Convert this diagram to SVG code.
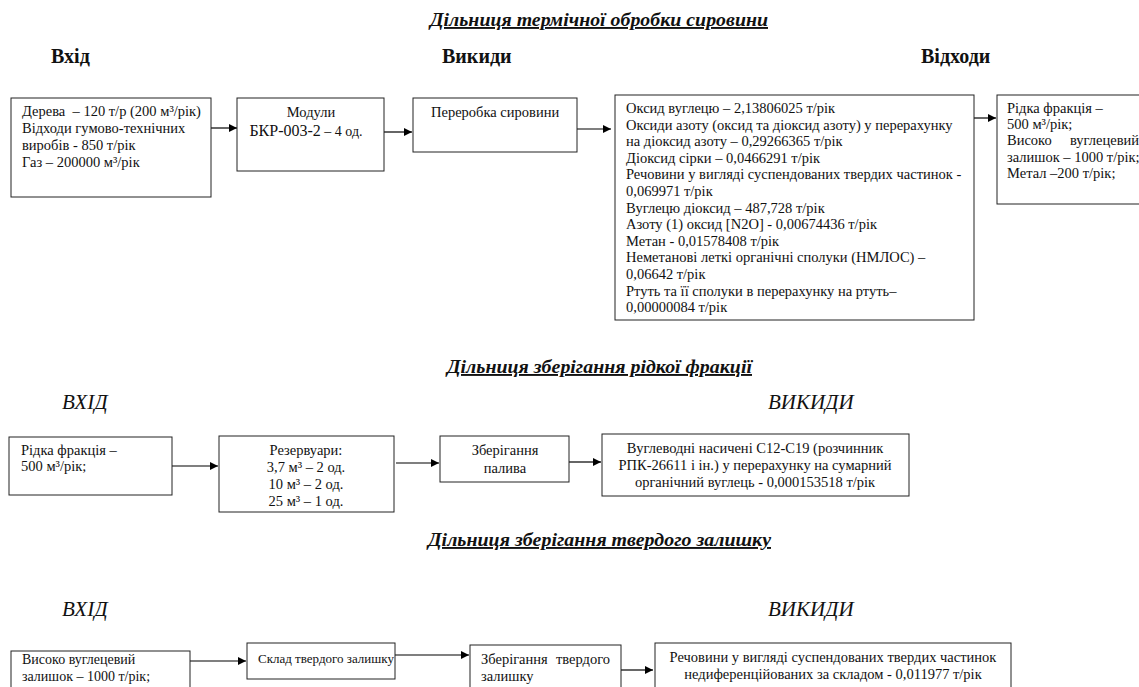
<svg xmlns="http://www.w3.org/2000/svg" width="1139" height="687" viewBox="0 0 1139 687" font-family="'Liberation Serif', 'Times New Roman', serif">
<defs>
<marker id="ah" viewBox="0 0 10 10" refX="10" refY="5" markerWidth="8" markerHeight="8" markerUnits="userSpaceOnUse" orient="auto">
<path d="M0,0 L10,5 L0,10 z" fill="#000"/>
</marker>
<style>
.box{fill:#fff;stroke:#222;stroke-width:1}
.t{font-size:14.5px;fill:#111}
.t.s{font-size:14px}
.t.xs{font-size:13px}
.c{text-anchor:middle}
.title{font-size:19px;font-weight:bold;font-style:italic;text-decoration:underline;fill:#111}
.hd{font-size:20px;font-weight:bold;fill:#111}
.hi{font-size:21px;font-style:italic;fill:#111}
.con{stroke:#000;stroke-width:1.2;fill:none;marker-end:url(#ah)}
</style>
</defs>
<rect width="1139" height="687" fill="#fff"/>

<g id="headings">
<text class="title" x="430" y="26" textLength="338" lengthAdjust="spacingAndGlyphs">Дільниця термічної обробки сировини</text>
<text class="hd" x="51" y="63">Вхід</text>
<text class="hd" x="442" y="63">Викиди</text>
<text class="hd" x="921" y="63">Відходи</text>
<text class="title" x="447" y="373" textLength="305" lengthAdjust="spacingAndGlyphs">Дільниця зберігання рідкої фракції</text>
<text class="hi" x="62" y="409">ВХІД</text>
<text class="hi" x="768" y="409">ВИКИДИ</text>
<text class="title" x="428" y="546" textLength="343" lengthAdjust="spacingAndGlyphs">Дільниця зберігання твердого залишку</text>
<text class="hi" x="62" y="616">ВХІД</text>
<text class="hi" x="768" y="616">ВИКИДИ</text>
</g>

<g id="connectors">
<line class="con" x1="211" y1="128" x2="237" y2="128"/>
<line class="con" x1="384" y1="132" x2="412" y2="132"/>
<line class="con" x1="577" y1="129" x2="611" y2="129"/>
<line class="con" x1="974" y1="118" x2="996" y2="118"/>
<line class="con" x1="172" y1="466" x2="218" y2="466"/>
<line class="con" x1="396" y1="463" x2="439" y2="463"/>
<line class="con" x1="569" y1="462" x2="601" y2="462"/>
<line class="con" x1="190" y1="661" x2="246" y2="661"/>
<line class="con" x1="395" y1="655" x2="469" y2="655"/>
<line class="con" x1="621" y1="670" x2="653" y2="670"/>
</g>

<g id="n_input1">
<rect class="box" x="11" y="98" width="200" height="99"/>
<text class="t" x="22" y="116" xml:space="preserve">Дерева  – 120 т/р (200 м³/рік)</text>
<text class="t" x="22" y="133">Відходи гумово-технічних</text>
<text class="t" x="22" y="150">виробів - 850 т/рік</text>
<text class="t" x="22" y="167">Газ – 200000 м³/рік</text>
</g>

<g id="n_modules">
<rect class="box" x="237" y="98" width="147" height="73"/>
<text class="t c" x="311" y="117">Модули</text>
<text class="t c" x="306" y="136"><tspan font-size="16">БКР-003-2</tspan><tspan font-size="14"> – 4 од.</tspan></text>
</g>

<g id="n_processing">
<rect class="box" x="413" y="98" width="164" height="54"/>
<text class="t" x="431" y="117">Переробка сировини</text>
</g>

<g id="n_emissions1">
<rect class="box" x="615" y="95" width="359" height="225"/>
<text class="t" x="626" y="113">Оксид вуглецю – 2,13806025 т/рік</text>
<text class="t" x="626" y="129.6">Оксиди азоту (оксид та діоксид азоту) у перерахунку</text>
<text class="t" x="626" y="146.2">на діоксид азоту – 0,29266365 т/рік</text>
<text class="t" x="626" y="162.8">Діоксид сірки – 0,0466291 т/рік</text>
<text class="t" x="626" y="179.4">Речовини у вигляді суспендованих твердих частинок -</text>
<text class="t" x="626" y="196">0,069971 т/рік</text>
<text class="t" x="626" y="212.6">Вуглецю діоксид – 487,728 т/рік</text>
<text class="t" x="626" y="229.2">Азоту (1) оксид [N2O] - 0,00674436 т/рік</text>
<text class="t" x="626" y="245.8">Метан - 0,01578408 т/рік</text>
<text class="t" x="626" y="262.4">Неметанові леткі органічні сполуки (НМЛОС) –</text>
<text class="t" x="626" y="279">0,06642 т/рік</text>
<text class="t" x="626" y="295.6">Ртуть та її сполуки в перерахунку на ртуть–</text>
<text class="t" x="626" y="312.2">0,00000084 т/рік</text>
</g>

<g id="n_waste">
<rect class="box" x="997" y="95" width="160" height="109"/>
<text class="t" x="1007" y="113">Рідка фракція –</text>
<text class="t" x="1007" y="129">500 м³/рік;</text>
<text class="t" x="1007" y="145">Високо</text>
<text class="t" x="1070" y="145">вуглецевий</text>
<text class="t" x="1007" y="162">залишок – 1000 т/рік;</text>
<text class="t" x="1007" y="178">Метал –200 т/рік;</text>
</g>

<g id="n_input2">
<rect class="box" x="9" y="437" width="163" height="58"/>
<text class="t" x="21" y="455">Рідка фракція –</text>
<text class="t" x="21" y="471">500 м³/рік;</text>
</g>

<g id="n_tanks">
<rect class="box" x="219" y="436" width="175" height="76"/>
<text class="t c" x="306" y="455">Резервуари:</text>
<text class="t c" x="306" y="472">3,7 м³ – 2 од.</text>
<text class="t c" x="306" y="489">10 м³ – 2 од.</text>
<text class="t c" x="306" y="506">25 м³ – 1 од.</text>
</g>

<g id="n_fuel">
<rect class="box" x="440" y="436" width="129" height="46"/>
<text class="t c" x="505" y="455">Зберігання</text>
<text class="t c" x="505" y="473">палива</text>
</g>

<g id="n_emissions2">
<rect class="box" x="602" y="434" width="307" height="62"/>
<text class="t c" x="755" y="453">Вуглеводні насичені С12-С19 (розчинник</text>
<text class="t c" x="755" y="470">РПК-26611 і ін.) у перерахунку на сумарний</text>
<text class="t c" x="755" y="487">органічний вуглець - 0,000153518 т/рік</text>
</g>

<g id="n_input3">
<rect class="box" x="11" y="651" width="179" height="60"/>
<text class="t s" x="22" y="664">Високо вуглецевий</text>
<text class="t s" x="22" y="681">залишок – 1000 т/рік;</text>
</g>

<g id="n_solid_store">
<rect class="box" x="247" y="643" width="148" height="36"/>
<text class="t xs" x="258" y="663">Склад твердого залишку</text>
</g>

<g id="n_solid_keep">
<rect class="box" x="470" y="645" width="151" height="60"/>
<text class="t" x="481" y="664">Зберігання</text>
<text class="t" x="556" y="664">твердого</text>
<text class="t" x="481" y="681">залишку</text>
</g>

<g id="n_emissions3">
<rect class="box" x="655" y="643" width="356" height="60"/>
<text class="t c" x="833" y="662">Речовини у вигляді суспендованих твердих частинок</text>
<text class="t c" x="833" y="679">недиференційованих за складом - 0,011977 т/рік</text>
</g>
</svg>
